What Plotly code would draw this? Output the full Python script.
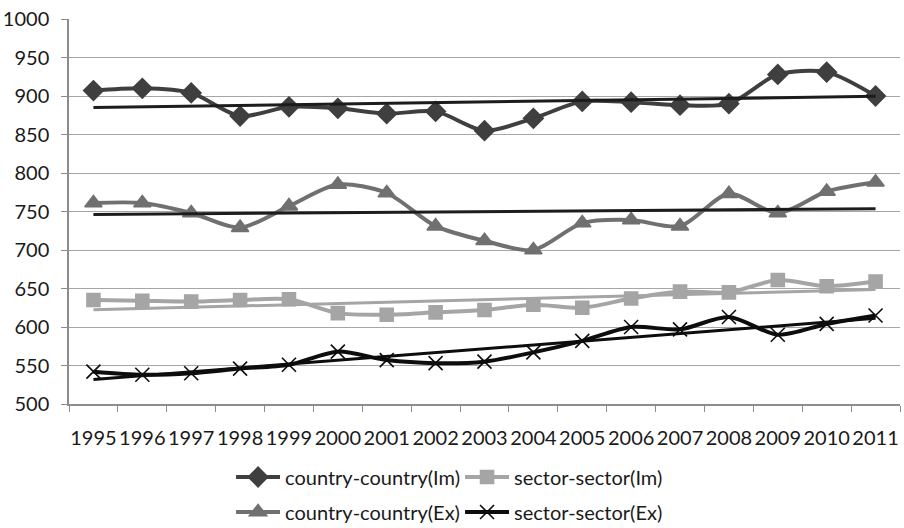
import numpy as np
import plotly.graph_objects as go

years = [str(y) for y in range(1995, 2012)]

cc_im = [907, 910, 904, 874, 886, 884, 877, 880, 855, 871, 893, 892, 888, 890, 928, 931, 900]
ss_im = [635, 634, 633, 635, 636, 618, 616, 619, 622, 629, 625, 637, 646, 645, 661, 653, 659]
cc_ex = [761, 761, 748, 729, 757, 785, 774, 731, 712, 700, 735, 739, 731, 773, 748, 776, 788]
ss_ex = [542, 538, 540, 546, 551, 568, 557, 553, 555, 567, 582, 600, 597, 613, 590, 604, 615]

y_ticks = [500, 550, 600, 650, 700, 750, 800, 850, 900, 950, 1000]

FONT = "Lato"
TXT = "#1a1a1a"

# name, values, colour, marker, size, trend colour, legend row
series = [
    ("country-country(Im)", cc_im, "#3f3f3f", "diamond", 15, "#1c1c1c", "legend"),
    ("sector-sector(Im)", ss_im, "#a5a5a5", "square", 13, "#a5a5a5", "legend"),
    ("country-country(Ex)", cc_ex, "#707070", "triangle-up", 15, "#1c1c1c", "legend2"),
    ("sector-sector(Ex)", ss_ex, "#0d0d0d", "x-thin", 14, "#0d0d0d", "legend2"),
]

fig = go.Figure()

for name, vals, color, sym, size, _, leg in series:
    fig.add_trace(go.Scatter(
        x=years, y=vals, name=name, mode="lines+markers", legend=leg,
        line=dict(color=color, width=4, shape="spline", smoothing=0.8),
        marker=dict(symbol=sym, size=size, color=color,
                    line=dict(color=color, width=1.6)),
    ))

# Linear trend lines fitted to each series
idx = np.arange(len(years))
for name, vals, color, sym, size, tcolor, leg in series:
    k, b = np.polyfit(idx, vals, 1)
    fig.add_trace(go.Scatter(
        x=years, y=k * idx + b, mode="lines", showlegend=False,
        hoverinfo="skip",
        line=dict(color=tcolor, width=3),
    ))

legend_common = dict(
    orientation="h", xref="paper", yref="container",
    x=0.195, xanchor="left", yanchor="middle",
    entrywidth=170, itemwidth=44, tracegroupgap=0,
    bgcolor="rgba(0,0,0,0)",
    font=dict(family=FONT, size=20, color=TXT),
)

fig.update_layout(
    width=904, height=528,
    margin=dict(l=69, r=4, t=19, b=124),
    paper_bgcolor="white", plot_bgcolor="white",
    font=dict(family=FONT, size=20, color=TXT),
    showlegend=True,
    legend=dict(y=1 - 477 / 528, **legend_common),
    legend2=dict(y=1 - 512 / 528, **legend_common),
)

fig.update_xaxes(
    type="category", range=[-0.5, len(years) - 0.5],
    showgrid=False, showline=True, linecolor="#8c8c8c",
    linewidth=1.5, ticks="outside", ticklen=6, tickcolor="#8c8c8c",
    tickson="boundaries", tickfont=dict(size=20), tickangle=0,
    ticklabelstandoff=15, automargin=False,
)
fig.update_yaxes(
    range=[500, 1000], tickvals=y_ticks, showgrid=True, gridcolor="#a6a6a6",
    gridwidth=1.2, showline=True, linecolor="#8c8c8c", linewidth=1.5,
    ticks="outside", ticklen=6, tickcolor="#8c8c8c", zeroline=False,
    tickfont=dict(size=20), ticklabelstandoff=8, automargin=False,
)

fig.write_html("out.html")
